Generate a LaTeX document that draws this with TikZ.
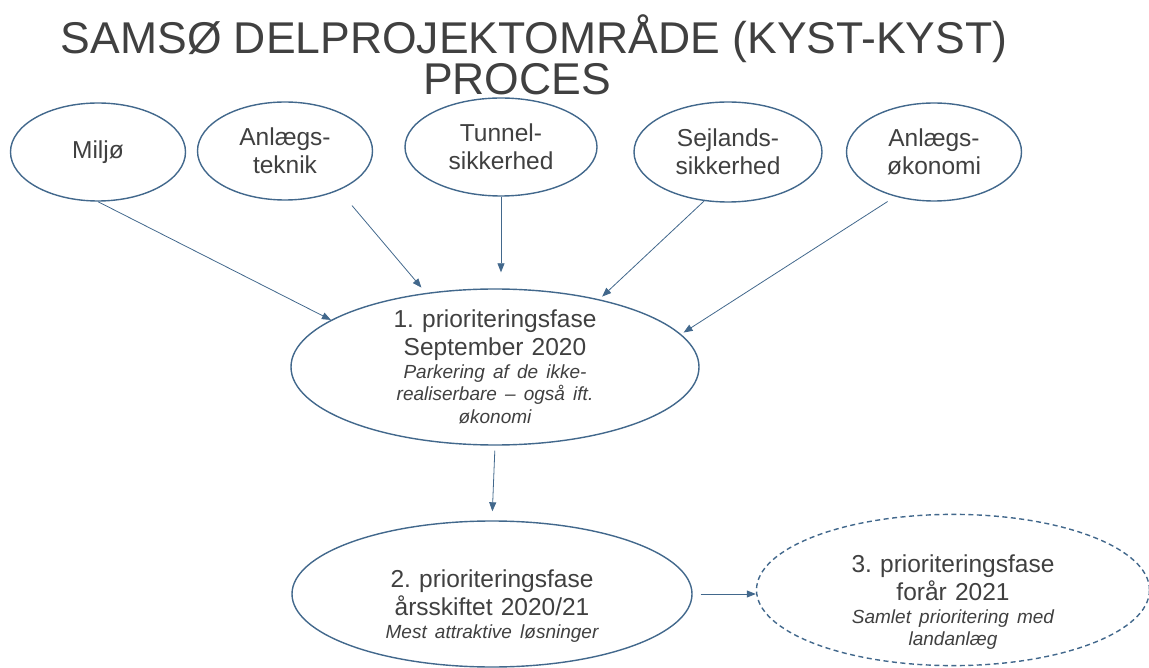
\documentclass[tikz,border=0pt]{standalone}
\usepackage{fontspec}
\setmainfont{Liberation Sans}
\usetikzlibrary{shapes.geometric,arrows.meta}
\definecolor{oline}{RGB}{66,104,140}
\definecolor{txtgray}{RGB}{64,64,64}
\newcommand{\itlines}{\fontsize{19}{22.5}\selectfont\itshape}
\frenchspacing

\begin{document}
\begin{tikzpicture}[x=1pt,y=-1pt,
  emne/.style={ellipse, draw=oline, line width=1.4pt, fill=white, text=txtgray,
    inner sep=0pt, align=center, font=\fontsize{24.5}{28}\selectfont,
    minimum width=175pt, minimum height=98pt},
  fase/.style={emne, text width=250pt, inner ysep=-6pt},
  pil/.style={draw=oline, line width=0.8pt, -{Triangle[length=9pt,width=7pt]}},
  overskrift/.style={anchor=north, inner sep=0pt, text=txtgray, align=center,
    font=\fontsize{44.5}{38}\selectfont}]
  \useasboundingbox (0,0) rectangle (1149,668);

  % titel
  \node[overskrift] (titel) at (534,14)
    {SAMSØ DELPROJEKTOMRÅDE (KYST-KYST)\\PROCES\hspace*{34pt}};

  % fagomraader
  \node[emne] (miljo)   at (98,152)  {Miljø};
  \node[emne] (teknik)  at (285,151) {Anlægs-\\teknik};
  \node[emne, minimum width=192pt] (tunnel) at (501,147) {Tunnel-\\sikkerhed};
  \node[emne, minimum width=188pt, minimum height=100pt] (sejl) at (728,152) {Sejlands-\\sikkerhed};
  \node[emne] (okonomi) at (934,152) {Anlægs-\\økonomi};

  % faser
  \node[fase, minimum width=408pt, minimum height=156pt] (fase1) at (495,367)
    {1. prioriteringsfase\\September 2020\par
     {\itlines Parkering af de ikke-\\realiserbare – også ift.\\økonomi\par}};
  \node[fase, minimum width=400pt, minimum height=146pt] (fase2) at (492,594)
    {\rule{0pt}{42pt}2. prioriteringsfase\\årsskiftet 2020/21\par
     {\itlines Mest attraktive løsninger\par}};
  \node[fase, dash pattern=on 5pt off 3.5pt, minimum width=393pt, minimum height=150pt] (fase3) at (953,590)
    {\rule{0pt}{42pt}3. prioriteringsfase\\forår 2021\par
     {\itlines Samlet prioritering med\\landanlæg\par}};

  % pile
  \draw[pil] (miljo.south) -- (fase1.164);
  \draw[pil, shorten <=20pt, shorten >=7pt] (teknik.-36) -- (fase1.133);
  \draw[pil, shorten >=16pt] (tunnel.south) -- (tunnel.south |- fase1.north);
  \draw[pil, shorten >=4pt] (sejl.-116) -- (fase1.33);
  \draw[pil, shorten <=9pt, shorten >=3pt] (okonomi.-131) -- (fase1.10);
  \draw[pil, shorten <=5pt, shorten >=9pt] (fase1.south) -- (fase2.north);
  \draw[pil, shorten <=8pt] (fase2.east) -- (fase2.east -| fase3.west);
\end{tikzpicture}
\end{document}
